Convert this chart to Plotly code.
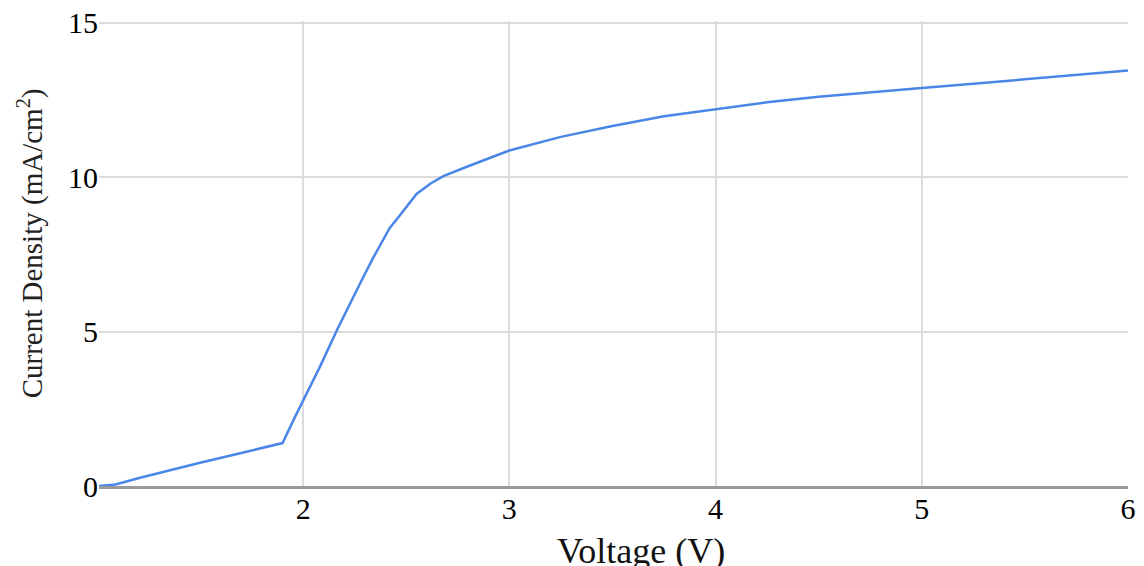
import plotly.graph_objects as go

voltage = [1.01, 1.09, 1.2, 1.3, 1.5, 1.7, 1.90, 1.96, 2.0, 2.08, 2.17, 2.21, 2.29, 2.34,
           2.42, 2.46, 2.55, 2.62, 2.68, 2.80, 2.9, 3.0, 3.25, 3.5, 3.75, 4.0, 4.25,
           4.5, 4.75, 5.0, 5.25, 5.5, 5.75, 6.0]
current = [0.0, 0.05, 0.25, 0.42, 0.75, 1.07, 1.39, 2.23, 2.77, 3.84, 5.13, 5.68, 6.74, 7.39,
           8.35, 8.68, 9.45, 9.8, 10.03, 10.35, 10.6, 10.86, 11.3, 11.65, 11.97, 12.2, 12.42,
           12.6, 12.75, 12.88, 13.02, 13.16, 13.3, 13.45]

x_ticks = [2, 3, 4, 5, 6]
y_ticks = [0, 5, 10, 15]

fig = go.Figure()
fig.add_trace(go.Scatter(x=voltage, y=current, mode="lines",
                         line=dict(color="#4a86e8", width=2.5), showlegend=False))

serif = "Liberation Serif, Times New Roman, serif"
fig.update_layout(
    width=1136, height=558,
    margin=dict(l=91, r=16, t=13, b=80),
    paper_bgcolor="white", plot_bgcolor="white",
    font=dict(family=serif, color="#000000"),
    annotations=[
        dict(text="Voltage (V)", xref="paper", yref="paper",
             x=0.527, y=-0.140, xanchor="center", yanchor="middle",
             showarrow=False, font=dict(size=36, family=serif, color="#111")),
        dict(text="Current Density (mA/cm<sup>2</sup>)", xref="paper", yref="paper",
             x=-0.067, y=0.522, xanchor="center", yanchor="middle", textangle=-90,
             showarrow=False, font=dict(size=29, family=serif, color="#222")),
    ],
)
fig.update_xaxes(
    range=[1.01, 6.0001], tickvals=x_ticks, showgrid=True, gridcolor="#dcdcdc", gridwidth=2,
    zeroline=False, showline=True, linecolor="#9a9a9a", linewidth=3,
    ticks="", automargin=False, ticklabelstandoff=-6, ticklabeloverflow="allow",
    tickfont=dict(size=30, family=serif, color="#000"),
)
fig.update_yaxes(
    range=[0, 15.05], tickvals=y_ticks, showgrid=True, gridcolor="#dcdcdc", gridwidth=2,
    zeroline=False, showline=False, automargin=False,
    ticks="", ticklabelstandoff=0, ticklabeloverflow="allow",
    tickfont=dict(size=30, family=serif, color="#000"),
)
fig.write_html("out.html")
